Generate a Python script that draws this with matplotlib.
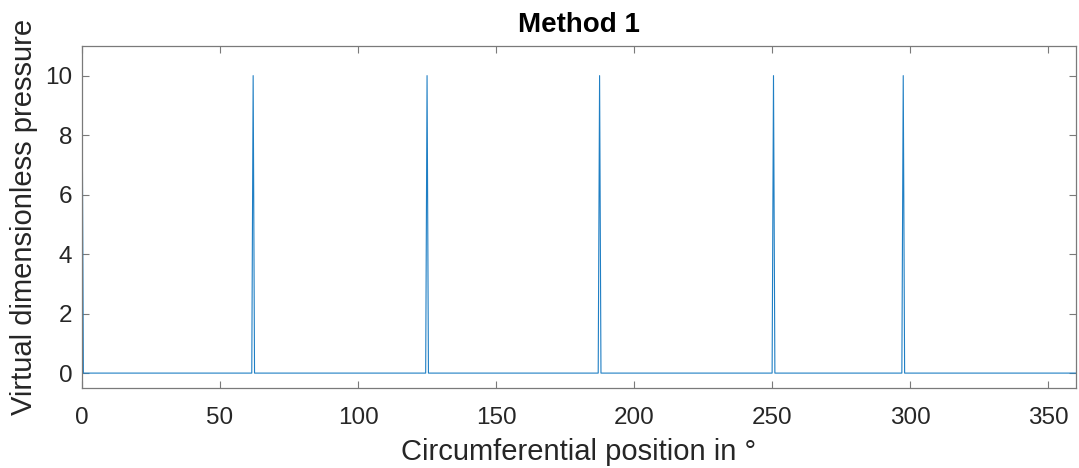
import numpy as np
import matplotlib
matplotlib.use("Agg")
import matplotlib.pyplot as plt

# puntos (grados, presion virtual adimensional)
angulos = [0, 0.5,
           61.5, 62, 62.5,
           124.5, 125, 125.5,
           187, 187.5, 188,
           250, 250.5, 251,
           297, 297.5, 298,
           360]
presion = [10, 0,
           0, 10, 0,
           0, 10, 0,
           0, 10, 0,
           0, 10, 0,
           0, 10, 0,
           0]

xticks = [0, 50, 100, 150, 200, 250, 300, 350]
yticks = [0, 2, 4, 6, 8, 10]

plt.rcParams['font.family'] = ['Liberation Sans', 'DejaVu Sans']
gris = "#262626"
gris_ejes = "#7a7a7a"

fig = plt.figure(figsize=(10.79, 4.68), dpi=100)
ax = fig.add_axes([0.076, 0.171, 0.921, 0.731])

ax.plot(angulos, presion, "-", color="#1f7fc4", linewidth=0.8)

ax.set_xlim(0, 360)
ax.set_ylim(-0.5, 11)
ax.set_xticks(xticks)
ax.set_yticks(yticks)
ax.tick_params(direction="in", top=True, right=True, length=5, width=0.8,
               labelsize=17.5, color=gris_ejes, labelcolor=gris)
ax.tick_params(axis="x", pad=14)
ax.tick_params(axis="y", pad=7)
for s in ax.spines.values():
    s.set_color(gris_ejes)
    s.set_linewidth(0.9)

ax.set_xlabel("Circumferential position in °", fontsize=21, color=gris, labelpad=6)
ax.set_ylabel("Virtual dimensionless pressure", fontsize=21, color=gris, labelpad=5)
ax.set_title("Method 1", fontsize=20, fontweight="bold", color="black", pad=10)

fig.savefig("out.png", dpi=100)
